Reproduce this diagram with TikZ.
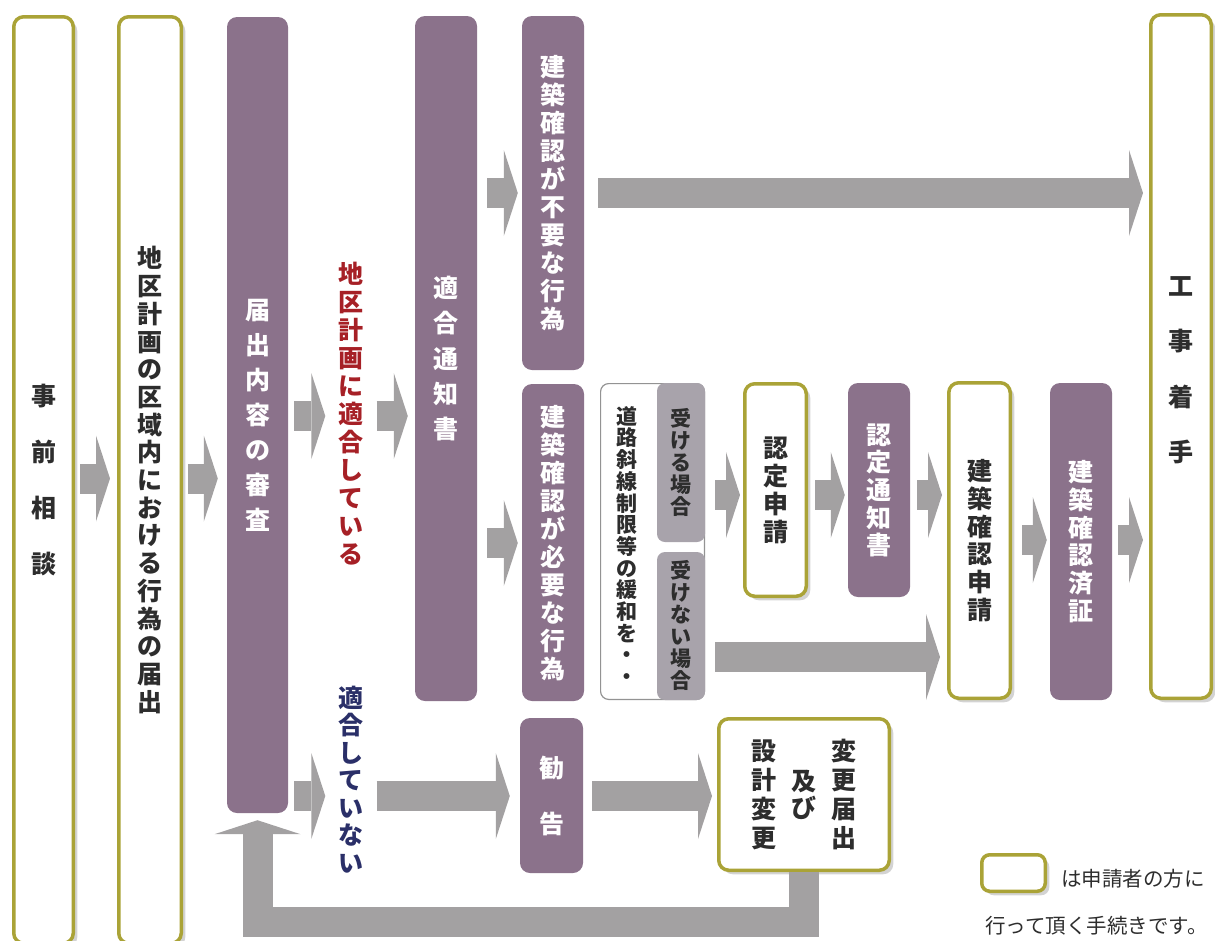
\documentclass[tikz,border=0pt]{standalone}
\usepackage{fontspec}
\usepackage{tikz}
\usetikzlibrary{arrows.meta,shadows,positioning}
\newfontfamily\jp{Noto Sans CJK JP}
\definecolor{kmolive}{RGB}{170,163,55}
\definecolor{kmpurple}{RGB}{139,114,139}
\definecolor{kmgray}{RGB}{163,161,162}
\definecolor{kmtab}{RGB}{168,163,171}
\definecolor{kmred}{RGB}{166,32,38}
\definecolor{kmnavy}{RGB}{42,47,104}
\definecolor{kmtext}{RGB}{45,45,45}
\tikzset{
	appl/.style   = {draw=kmolive, line width=3.5pt, fill=white, rounded corners=10pt,
		inner sep=0pt, text=kmtext, font=\jp\bfseries\fontsize{25}{28}\selectfont,
		drop shadow={opacity=0.35, shadow xshift=4pt, shadow yshift=-4pt}},
	office/.style = {fill=kmpurple, rounded corners=10pt, inner sep=0pt, text=white,
		font=\jp\bfseries\fontsize{25}{28}\selectfont},
	group/.style  = {draw=gray!85, line width=1.2pt, fill=white, rounded corners=8pt, inner sep=0pt},
	tab/.style    = {fill=kmtab, rounded corners=8pt, inner sep=0pt, text=kmtext,
		font=\jp\bfseries\fontsize{21}{22}\selectfont},
	cond/.style   = {inner sep=0pt, font=\jp\bfseries\fontsize{25}{28}\selectfont}, % Labels between blocks
	flow/.style   = {draw=kmgray, line width=30pt,
		-{Triangle[length=14pt, width=86pt, line width=0pt]}}, % Gray arrows
	note/.style   = {inner sep=0pt, anchor=west, text=kmtext, font=\jp\fontsize{20.5}{24}\selectfont}
}
% vertical text, one character under the other
\newcommand*{\tateend}{}
\newcommand{\tate}[2][27.7pt]{\vbox{\baselineskip=#1\lineskiplimit=-100pt\relax\tateloop#2\tateend}}
\def\tateloop#1{\ifx#1\tateend\else\hbox to 1em{\hss\vrule height .88em depth .12em width 0pt#1\hss}\expandafter\tateloop\fi}

\begin{document}
\begin{tikzpicture}[x=1pt, y=-1pt]
	\clip (0,0) rectangle (1215,940);
	% heights of the gray arrows
	\coordinate (rowa) at (0,478.5);
	\coordinate (rowb) at (0,416);
	\coordinate (rowc) at (0,193);
	\coordinate (rowd) at (0,543);
	\coordinate (rowe) at (0,495);
	\coordinate (rowf) at (0,540);
	\coordinate (rowg) at (0,657);
	\coordinate (rowh) at (0,796);
	\coordinate (back) at (500,922);

	\draw
	% Drawing the blocks of the notification
	node at (43.5,480) [appl, minimum width=59.5, minimum height=926.5] (jizen) {\tate[56pt]{事前相談}}
	node at (150,480) [appl, minimum width=62.5, minimum height=926.5] (chiku) {\tate{地区計画の区域内における行為の届出}}
	node at (257.5,415) [office, minimum width=61, minimum height=796] (shinsa) {\tate[35pt]{届出内容の審査}}
	node at (351,414) [cond, text=kmred] (tekigo) {\tate[28pt]{地区計画に適合している}}
	node at (351,780) [cond, text=kmnavy] (futeki) {\tate[27.5pt]{適合していない}}
	node at (446,358.5) [office, minimum width=62, minimum height=685] (tsuchi) {\tate[35.2pt]{適合通知書}}
	node at (553,193) [office, minimum width=62, minimum height=354] (fuyou) {\tate[28pt]{建築確認が不要な行為}}
	node at (553,542.5) [office, minimum width=62, minimum height=317] (hitsuyou) {\tate[28pt]{建築確認が必要な行為}}
	% Drawing the relaxation group
	node at (652.5,541.5) [group, minimum width=103.8, minimum height=315.8] (kanwabox) {}
	node at (627,546.5) [tab, fill=none] (kanwa) {\tate[21.7pt]{道路斜線制限等の緩和を・・}}
	node at (681,462.5) [tab, minimum width=48, minimum height=159] (ukeru) {\tate[22pt]{受ける場合}}
	node at (681,626) [tab, minimum width=48, minimum height=148] (ukenai) {\tate[22pt]{受けない場合}}
	% Drawing the blocks of the building confirmation
	node at (775.5,490) [appl, minimum width=61.5, minimum height=212.5] (nintei) {\tate{認定申請}}
	node at (879,490) [office, minimum width=62, minimum height=214] (ntsuchi) {\tate{認定通知書}}
	node at (979.5,540.5) [appl, minimum width=61.5, minimum height=315.5] (kakunin) {\tate{建築確認申請}}
	node at (1081,541.5) [office, minimum width=62, minimum height=317] (sumi) {\tate{建築確認済証}}
	node at (1181,356.5) [appl, minimum width=60.5, minimum height=683.5] (chakushu) {}
	node at (1181,369) [cond, text=kmtext] (chakushutxt) {\tate[55.5pt]{工事着手}}
	% Drawing the blocks of the advice
	node at (551.5,795.5) [office, minimum width=63, minimum height=155] (kankoku) {\tate[56pt]{勧告}}
	node at (804,794.5) [appl, minimum width=170.5, minimum height=151.5] (henkou)
		{$\vcenter{\tate[28.8pt]{設計変更}}\hskip15pt\vcenter{\tate[27pt]{及び}}\hskip15pt\vcenter{\tate[28.8pt]{変更届出}}$}
	% Legend
	node at (1013.5,873) [appl, minimum width=63.5, minimum height=36.5, rounded corners=8pt] (legbox) {}
	node at (1061,878.5) [note] (legA) {は申請者の方に}
	node at (985,926) [note] (legB) {行って頂く手続きです。}
	;

	\draw[flow, shorten <=5pt, shorten >=7pt] (jizen.east |- rowa) -- (chiku.west |- rowa);
	\draw[flow, shorten <=5pt, shorten >=9pt] (chiku.east |- rowa) -- (shinsa.west |- rowa);
	\draw[flow, shorten <=6pt, shorten >=13pt] (shinsa.east |- rowb) -- (tekigo.west |- rowb);
	\draw[flow, shorten <=13pt, shorten >=7pt] (tekigo.east |- rowb) -- (tsuchi.west |- rowb);
	\draw[flow, shorten <=10pt, shorten >=4pt] (tsuchi.east |- rowc) -- (fuyou.west |- rowc);
	\draw[flow, shorten <=14pt, shorten >=6pt] (fuyou.east |- rowc) -- (chakushu.west |- rowc);
	\draw[flow, shorten <=10pt, shorten >=4pt] (tsuchi.east |- rowd) -- (hitsuyou.west |- rowd);
	\draw[flow, shorten <=10pt, shorten >=3pt] (ukeru.east |- rowe) -- (nintei.west |- rowe);
	\draw[flow, shorten <=7pt, shorten >=3pt] (nintei.east |- rowe) -- (ntsuchi.west |- rowe);
	\draw[flow, shorten <=7pt, shorten >=5pt] (ntsuchi.east |- rowe) -- (kakunin.west |- rowe);
	\draw[flow, shorten <=10pt, shorten >=3pt] (kakunin.east |- rowf) -- (sumi.west |- rowf);
	\draw[flow, shorten <=6pt, shorten >=6pt] (sumi.east |- rowf) -- (chakushu.west |- rowf);
	\draw[flow, shorten <=10pt, shorten >=7pt] (ukenai.east |- rowg) -- (kakunin.west |- rowg);
	\draw[flow, shorten <=6pt, shorten >=13pt] (shinsa.east |- rowh) -- (futeki.west |- rowh);
	\draw[flow, shorten <=13pt, shorten >=10pt] (futeki.east |- rowh) -- (kankoku.west |- rowh);
	\draw[flow, shorten <=9pt, shorten >=5pt] (kankoku.east |- rowh) -- (henkou.west |- rowh);
	% back to the review
	\draw[flow, shorten >=7pt] (henkou.south) |- (back) -| (shinsa.south);
\end{tikzpicture}
\end{document}
